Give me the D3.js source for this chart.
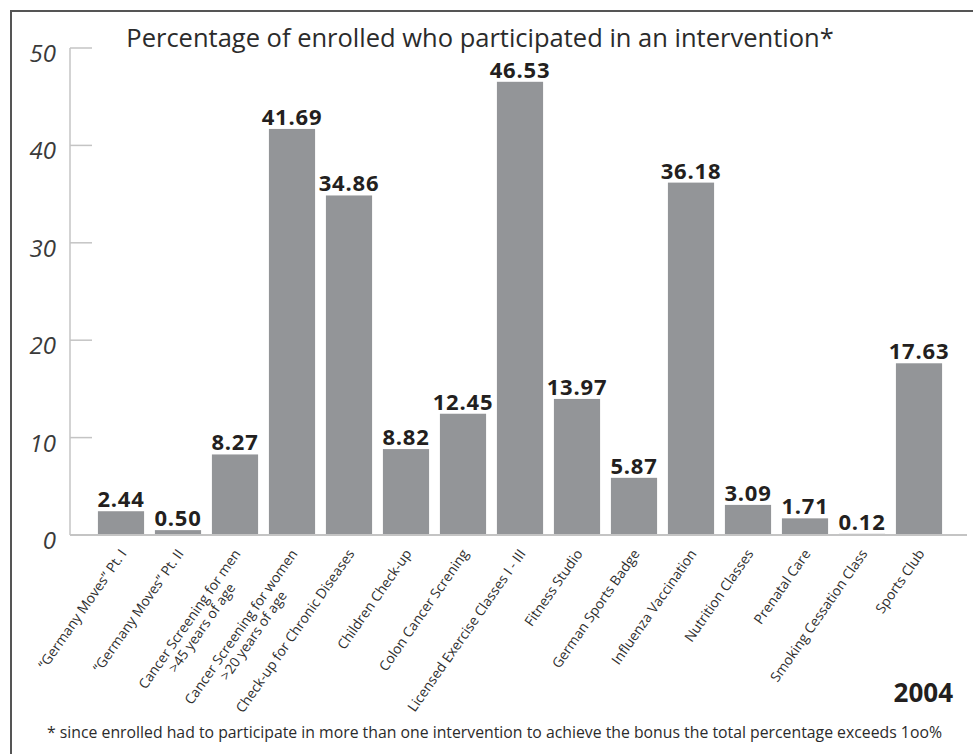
<!DOCTYPE html>
<html>
<head>
<meta charset="utf-8">
<script src="https://cdn.jsdelivr.net/npm/d3@7"></script>
<style>
  body { margin: 0; background: #fff; }
  svg { display: block; font-family: "Open Sans", sans-serif; }
</style>
</head>
<body>
<div id="chart"></div>
<script>
// ── Datos ──────────────────────────────────────────────────────────────────
const categories = [
  ["\u201cGermany Moves\u201d Pt. I"],
  ["\u201cGermany Moves\u201d Pt. II"],
  ["Cancer Screening for men", ">45 years of age"],
  ["Cancer Screening for women", ">20 years of age"],
  ["Check-up for Chronic Diseases"],
  ["Children Check-up"],
  ["Colon Cancer Screning"],
  ["Licensed Exercise Classes I - III"],
  ["Fitness Studio"],
  ["German Sports Badge"],
  ["Influenza Vaccination"],
  ["Nutrition Classes"],
  ["Prenatal Care"],
  ["Smoking Cessation Class"],
  ["Sports Club"]
];
const values = [2.44, 0.50, 8.27, 41.69, 34.86, 8.82, 12.45, 46.53, 13.97, 5.87, 36.18, 3.09, 1.71, 0.12, 17.63];
const yTicks = [0, 10, 20, 30, 40, 50];

const title = "Percentage of enrolled who participated in an intervention*";
const yearLabel = "2004";
const footnote = "* since enrolled had to participate in more than one intervention to achieve the bonus the total percentage exceeds 1oo%";

const width = 973, height = 754;

// ── Escalas ────────────────────────────────────────────────────────────────
const x = d3.scaleBand()
  .domain(d3.range(values.length))
  .range([92.5, 947.5])
  .paddingInner(0.19)
  .paddingOuter(0.095);

const y = d3.scaleLinear().domain([0, 50]).range([535, 48]);

// ── SVG ────────────────────────────────────────────────────────────────────
const svg = d3.select("#chart").append("svg")
  .attr("width", width)
  .attr("height", height);

// marco
svg.append("path")
  .attr("d", `M11,${height + 5} L11,11 L${width + 5},11`)
  .attr("fill", "none")
  .attr("stroke", "#555")
  .attr("stroke-width", 2);

// título
svg.append("text")
  .attr("x", 480)
  .attr("y", 47)
  .attr("text-anchor", "middle")
  .style("font-size", "25.5px")
  .style("fill", "#2b2b2b")
  .text(title);

// ── Eje Y ──────────────────────────────────────────────────────────────────
const axisG = svg.append("g");
axisG.append("line")
  .attr("x1", 70).attr("x2", 70)
  .attr("y1", y(50)).attr("y2", y(0))
  .attr("stroke", "#c4c4c4").attr("stroke-width", 1.5);

axisG.selectAll(".tick")
  .data(yTicks.filter(d => d > 0))
  .join("line")
  .attr("x1", 70).attr("x2", 92)
  .attr("y1", d => y(d)).attr("y2", d => y(d))
  .attr("stroke", "#c4c4c4").attr("stroke-width", 1.5);

axisG.selectAll("text")
  .data(yTicks)
  .join("text")
  .attr("x", 56)
  .attr("y", d => y(d) + 14)
  .attr("text-anchor", "end")
  .style("font-size", "24px")
  .style("font-style", "italic")
  .style("fill", "#3a3a3a")
  .text(d => d);

// ── Barras ─────────────────────────────────────────────────────────────────
svg.append("g")
  .selectAll("rect")
  .data(values)
  .join("rect")
  .attr("x", (d, i) => x(i))
  .attr("y", d => y(d))
  .attr("width", x.bandwidth())
  .attr("height", d => y(0) - y(d))
  .attr("fill", "#939598");

// línea base
svg.append("line")
  .attr("x1", 70).attr("x2", 967)
  .attr("y1", y(0)).attr("y2", y(0))
  .attr("stroke", "#c4c4c4").attr("stroke-width", 2);

// valores
svg.append("g")
  .selectAll("text")
  .data(values)
  .join("text")
  .attr("x", (d, i) => x(i) + x.bandwidth() / 2)
  .attr("y", d => y(d) - 4)
  .attr("text-anchor", "middle")
  .style("font-size", "22px")
  .style("letter-spacing", "0.8px")
  .style("font-weight", "bold")
  .style("fill", "#231f20")
  .text(d => d.toFixed(2));

// ── Etiquetas X ────────────────────────────────────────────────────────────
const xl = svg.append("g")
  .selectAll("text")
  .data(categories)
  .join("text")
  .attr("transform", (d, i) => `translate(${x(i) + x.bandwidth() / 2 - 2},548) rotate(-55)`)
  .attr("text-anchor", "end")
  .style("font-size", "13.8px")
  .style("fill", "#2e2e2e");

xl.each(function(lines) {
  const t = d3.select(this);
  const first = t.append("tspan").attr("x", 0).attr("dy", "0.72em").text(lines[0]);
  if (lines.length > 1) {
    const w1 = first.node().getComputedTextLength();
    const second = t.append("tspan").attr("dy", "1.1em").text(lines[1]);
    const w2 = second.node().getComputedTextLength();
    second.attr("x", -(w1 - w2) / 2);
  }
});

// año
svg.append("text")
  .attr("x", 953)
  .attr("y", 702)
  .attr("text-anchor", "end")
  .style("font-size", "26px")
  .style("font-weight", "bold")
  .style("fill", "#231f20")
  .text(yearLabel);

// nota al pie
svg.append("text")
  .attr("x", 47)
  .attr("y", 738)
  .style("font-size", "15.8px")
  .style("fill", "#2b2b2b")
  .text(footnote);
</script>
</body>
</html>
